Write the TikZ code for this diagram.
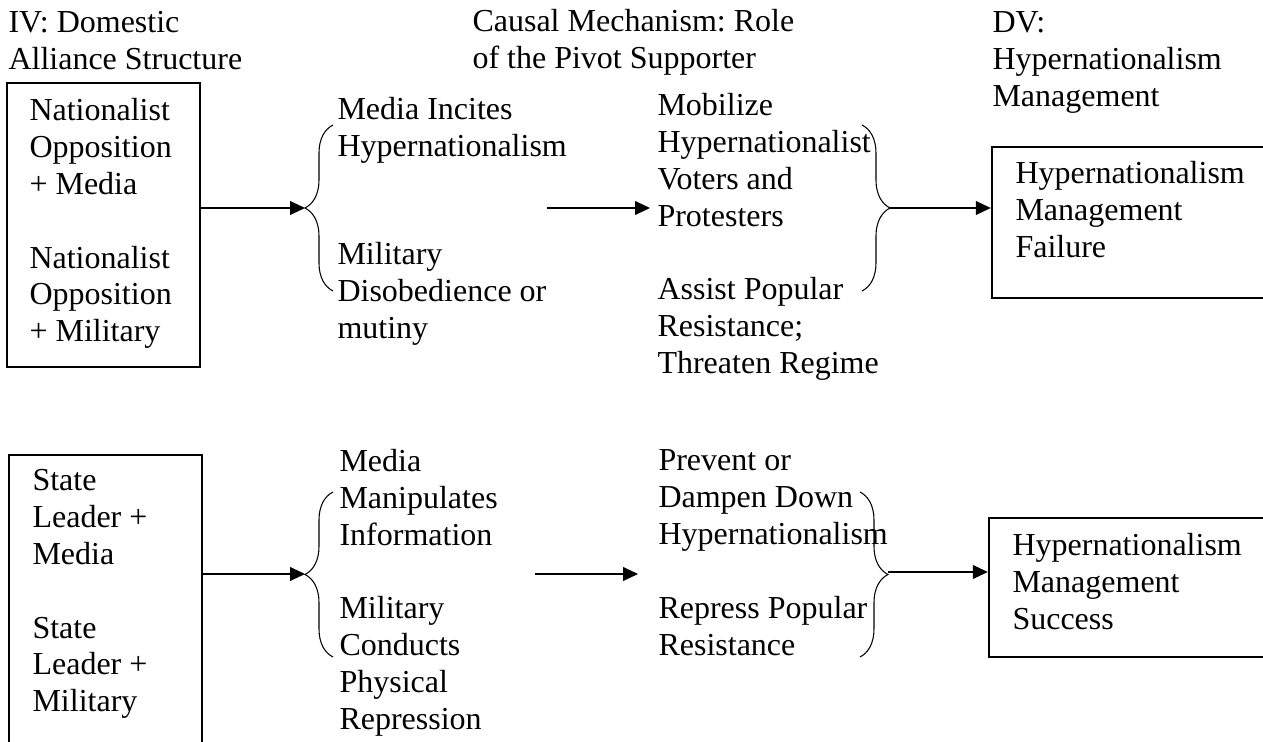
\documentclass[tikz,border=0pt]{standalone}
\usepackage{fontspec}
\setmainfont{Liberation Serif}
\frenchspacing
\usetikzlibrary{arrows.meta, decorations.pathreplacing, fit}

\begin{document}
\begin{tikzpicture}[x=0.375pt,y=-0.375pt,
 txt/.style = {font=\fontsize{12}{13.8}\selectfont, align=left, anchor=north west, yshift=9.66pt, inner sep=0pt, execute at begin node=\strut},
 box/.style = {draw, line width=0.9pt, inner sep=0pt},
 arr/.style = {-{Triangle[length=5.6pt,width=5.2pt]}, line width=0.4pt},
 brc/.style = {decorate, decoration={brace,amplitude=10.5pt}, line width=0.4pt},
]
\clip (0,0) rectangle (1263,742);

% column heads
\node (hIV)[txt] at (8,37)    {IV: Domestic\\Alliance Structure};
\node (hCM)[txt] at (472,35)  {Causal Mechanism: Role\\of the Pivot Supporter};
\node (hDV)[txt] at (992,37)  {DV:\\Hypernationalism\\Management};

% upper row
\node (ivA)[box, fit={(7,83) (200,367)}] {};
\node (ivAtxt)[txt] at (29,124) {Nationalist\\Opposition\\+ Media\\[\baselineskip]Nationalist\\Opposition\\+ Military};
\node (mdA)[txt] at (337,123) {Media Incites\\Hypernationalism};
\node (mlA)[txt] at (337,268) {Military\\Disobedience or\\mutiny};
\node (pvA)[txt] at (657,119) {Mobilize\\Hypernationalist\\Voters and\\Protesters};
\node (pvA2)[txt] at (657,303) {Assist Popular\\Resistance;\\Threaten Regime};
\node (dvA)[box, fit={(992,147) (1290,298)}] {};
\node (dvAtxt)[txt] at (1015,187) {Hypernationalism\\Management\\Failure};

\coordinate (bA) at (305,208);
\coordinate (cA) at (890,208);
\coordinate (mA1) at (547,208);
\coordinate (mA2) at (650,208);
\draw[brc] (333,291) -- (333,125);
\draw[brc] (862,125) -- (862,291);
\draw[arr] (ivA.east |- bA) -- (bA);
\draw[arr] (mA1) -- (mA2);
\draw[arr] (cA) -- (dvA.west |- cA);

% lower row
\node (ivB)[box, fit={(9,455) (202,770)}] {};
\node (ivBtxt)[txt] at (32,495) {State\\Leader +\\Media\\[\baselineskip]State\\Leader +\\Military};
\node (mdB)[txt] at (339,475) {Media\\Manipulates\\Information};
\node (mlB)[txt] at (339,622) {Military\\Conducts\\Physical\\Repression};
\node (pvB)[txt] at (658,475) {Prevent or\\Dampen Down\\Hypernationalism};
\node (pvB2)[txt] at (658,622) {Repress Popular\\Resistance};
\node (dvB)[box, fit={(989,518) (1290,657)}] {};
\node (dvBtxt)[txt] at (1012,559) {Hypernationalism\\Management\\Success};

\coordinate (bB) at (305,574);
\coordinate (cB) at (888,572);
\coordinate (mB1) at (535,574);
\coordinate (mB2) at (638,574);
\draw[brc] (333,657) -- (333,492);
\draw[brc] (860,492) -- (860,657);
\draw[arr] (ivB.east |- bB) -- (bB);
\draw[arr] (mB1) -- (mB2);
\draw[arr] (cB) -- (dvB.west |- cB);
\end{tikzpicture}
\end{document}
